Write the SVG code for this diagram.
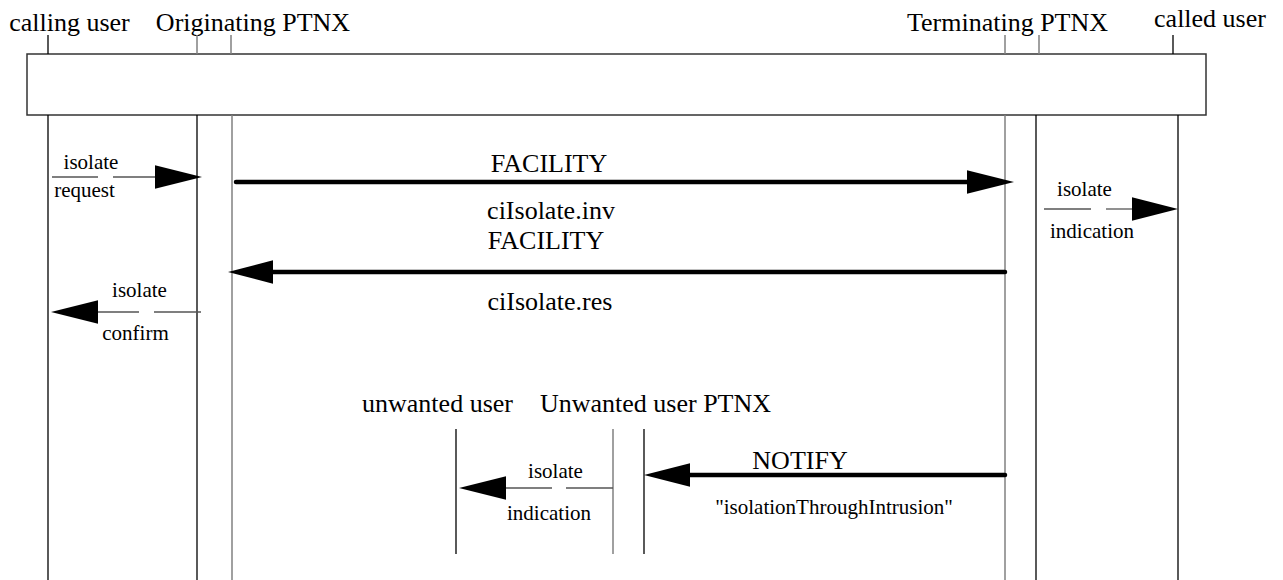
<svg xmlns="http://www.w3.org/2000/svg" width="1283" height="580" viewBox="0 0 1283 580">
<defs>
<style>
text{font-family:"Liberation Serif","Times New Roman",serif;fill:#000;text-anchor:middle}
.big{font-size:26px}
.small{font-size:21px}
.life{stroke:#000;stroke-width:1.3;fill:none}
.lifeg{stroke:#808080;stroke-width:1.5;fill:none}
.thin{stroke:#555;stroke-width:1.3;fill:none}
.thick{stroke:#000;stroke-width:4.5;fill:none;stroke-linecap:round}
.head{fill:#000;stroke:none}
</style>
</defs>
<rect width="1283" height="580" fill="#fff"/>
<g id="frame">
<rect x="27" y="54" width="1179" height="61" fill="#fff" stroke="#333" stroke-width="1.5"/>
</g>
<g id="calling-user">
<text class="big" x="69.5" y="31">calling user</text>
<line class="life" x1="48" y1="35" x2="48" y2="54"/>
<line class="life" x1="48" y1="115" x2="48" y2="580"/>
</g>
<g id="originating-ptnx">
<text class="big" x="253" y="31">Originating PTNX</text>
<line class="lifeg" x1="197" y1="35" x2="197" y2="54"/>
<line class="lifeg" x1="231" y1="35" x2="231" y2="54"/>
<line class="life" x1="197" y1="115" x2="197" y2="580"/>
<line class="lifeg" x1="232" y1="115" x2="232" y2="580"/>
</g>
<g id="terminating-ptnx">
<text class="big" x="1007.5" y="31">Terminating PTNX</text>
<line class="lifeg" x1="1005" y1="35" x2="1005" y2="54"/>
<line class="lifeg" x1="1039" y1="35" x2="1039" y2="54"/>
<line class="lifeg" x1="1005" y1="115" x2="1005" y2="580"/>
<line class="life" x1="1036" y1="115" x2="1036" y2="580"/>
</g>
<g id="called-user">
<text class="big" x="1210" y="27">called user</text>
<line class="life" x1="1173" y1="35" x2="1173" y2="54"/>
<line class="life" x1="1178" y1="115" x2="1178" y2="580"/>
</g>
<g id="unwanted-user">
<text class="big" x="437.5" y="412">unwanted user</text>
<line class="life" x1="456" y1="429" x2="456" y2="554"/>
</g>
<g id="unwanted-user-ptnx">
<text class="big" x="655.5" y="412">Unwanted user PTNX</text>
<line class="lifeg" x1="613" y1="429" x2="613" y2="554"/>
<line class="life" x1="644" y1="429" x2="644" y2="554"/>
</g>
<g id="connectors">
<!-- isolate request -->
<line class="thin" x1="52" y1="177" x2="98" y2="177"/>
<line class="thin" x1="113" y1="177" x2="156" y2="177"/>
<polygon class="head" points="155,165.3 202,177 155,188.7"/>
<text class="small" x="91" y="169">isolate</text>
<text class="small" x="84.5" y="197">request</text>
<!-- FACILITY inv -->
<line class="thick" x1="236" y1="182" x2="970" y2="182"/>
<polygon class="head" points="967,170.3 1014,182 967,193.7"/>
<text class="big" x="549" y="172">FACILITY</text>
<text class="big" x="551" y="219">ciIsolate.inv</text>
<!-- isolate indication right -->
<line class="thin" x1="1044" y1="209" x2="1091" y2="209"/>
<line class="thin" x1="1106" y1="209" x2="1133" y2="209"/>
<polygon class="head" points="1132,197.3 1178,209 1132,220.7"/>
<text class="small" x="1084.5" y="196">isolate</text>
<text class="small" x="1092" y="238">indication</text>
<!-- FACILITY res -->
<line class="thick" x1="1005" y1="272" x2="270" y2="272"/>
<polygon class="head" points="273,260.3 228,272 273,283.7"/>
<text class="big" x="546" y="249">FACILITY</text>
<text class="big" x="550" y="310">ciIsolate.res</text>
<!-- isolate confirm -->
<line class="thin" x1="201" y1="312" x2="154" y2="312"/>
<line class="thin" x1="139" y1="312" x2="97" y2="312"/>
<polygon class="head" points="98,300.3 51,312 98,323.7"/>
<text class="small" x="139.5" y="297">isolate</text>
<text class="small" x="135.5" y="340">confirm</text>
<!-- NOTIFY -->
<line class="thick" x1="1005" y1="475" x2="688" y2="475"/>
<polygon class="head" points="690,463.3 644,475 690,486.7"/>
<text class="big" x="800" y="469">NOTIFY</text>
<text class="small" x="834" y="514">"isolationThroughIntrusion"</text>
<!-- isolate indication bottom -->
<line class="thin" x1="613" y1="488" x2="566" y2="488"/>
<line class="thin" x1="552" y1="488" x2="505" y2="488"/>
<polygon class="head" points="506,476.3 459,488 506,499.7"/>
<text class="small" x="555.5" y="478">isolate</text>
<text class="small" x="549" y="520">indication</text>
</g>
</svg>
